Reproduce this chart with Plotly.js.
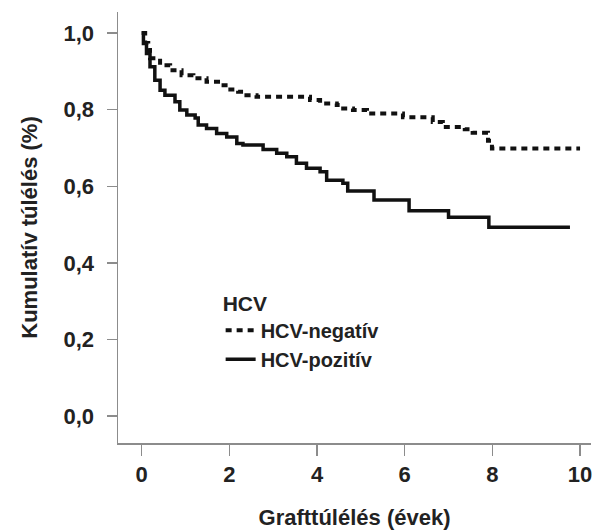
<!DOCTYPE html>
<html>
<head>
<meta charset="utf-8">
<script src="https://cdn.plot.ly/plotly-3.0.1.min.js"></script>
<style>html,body{margin:0;padding:0;background:#fff;}#chart{width:593px;height:530px;}</style>
</head>
<body>
<div id="chart"></div>
<script>
const negX = [0, 0.08, 0.15, 0.19, 0.42, 0.65, 0.91, 1.18, 1.48, 1.79, 1.97, 2.2, 2.39, 2.62, 3.84, 4.07, 4.45, 4.52, 4.82, 5.14, 5.96, 6.64, 6.87, 7.37, 7.55, 7.9, 7.99, 10.0];
const negY = [1.0, 0.974, 0.956, 0.934, 0.916, 0.903, 0.89, 0.882, 0.873, 0.864, 0.853, 0.847, 0.838, 0.834, 0.825, 0.816, 0.812, 0.803, 0.799, 0.79, 0.78, 0.768, 0.755, 0.749, 0.74, 0.719, 0.699, 0.699];
const posX = [0, 0.04, 0.11, 0.19, 0.30, 0.42, 0.53, 0.76, 0.87, 1.03, 1.22, 1.29, 1.48, 1.71, 1.94, 2.17, 2.31, 2.77, 3.08, 3.31, 3.53, 3.76, 4.07, 4.22, 4.59, 4.70, 5.30, 6.10, 7.00, 7.92, 9.77];
const posY = [1.0, 0.973, 0.947, 0.912, 0.877, 0.851, 0.838, 0.821, 0.799, 0.786, 0.778, 0.76, 0.751, 0.738, 0.729, 0.712, 0.708, 0.696, 0.686, 0.677, 0.66, 0.647, 0.638, 0.616, 0.608, 0.588, 0.564, 0.536, 0.519, 0.493, 0.493];
const seriesNames = ["HCV-negatív", "HCV-pozitív"];
const xTicks = [0, 2, 4, 6, 8, 10];
const yTicks = [0, 0.2, 0.4, 0.6, 0.8, 1.0];

const fontFam = "Liberation Sans, Arial, Helvetica, sans-serif";
const baseFont = {family: fontFam, size: 22, color: "#222", weight: "bold"};
const legFont = {family: fontFam, size: 20, color: "#222", weight: "bold"};
const legTitleFont = {family: fontFam, size: 21, color: "#222", weight: "bold"};

const traces = [
  {x: negX, y: negY, name: seriesNames[0], mode: "lines", line: {shape: "hv", color: "#111", width: 4, dash: "6px,5px"}},
  {x: posX, y: posY, name: seriesNames[1], mode: "lines", line: {shape: "hv", color: "#111", width: 3.5}}
];

const layout = {
  width: 593, height: 530,
  margin: {l: 118, r: 2, t: 12, b: 87},
  paper_bgcolor: "#fff", plot_bgcolor: "#fff",
  separators: ",.",
  font: baseFont,
  showlegend: true,
  legend: {
    x: 0.217, y: 0.37, xanchor: "left", yanchor: "top",
    bgcolor: "rgba(0,0,0,0)",
    title: {text: "HCV", font: legTitleFont},
    font: legFont,
    itemwidth: 30,
    tracegroupgap: 0
  },
  xaxis: {
    range: [-0.54, 10.25],
    tickvals: xTicks,
    tickformat: "d",
    showline: true, linecolor: "#8c8c8c", linewidth: 1.5,
    ticks: "outside", ticklen: 11, tickcolor: "#8c8c8c", tickwidth: 1.5,
    showgrid: false, zeroline: false,
    tickfont: baseFont,
    title: {text: "Grafttúlélés (évek)", font: baseFont, standoff: 28}
  },
  yaxis: {
    range: [-0.07, 1.055],
    tickvals: yTicks,
    tickformat: ".1f",
    showline: true, linecolor: "#8c8c8c", linewidth: 1.5,
    ticks: "outside", ticklen: 10, tickcolor: "#8c8c8c", tickwidth: 1.5,
    ticklabelstandoff: 8,
    showgrid: false, zeroline: false,
    tickfont: baseFont,
    title: {text: "Kumulatív túlélés (%)", font: baseFont, standoff: 20}
  }
};

Plotly.newPlot("chart", traces, layout, {displayModeBar: false, staticPlot: true});
</script>
</body>
</html>
